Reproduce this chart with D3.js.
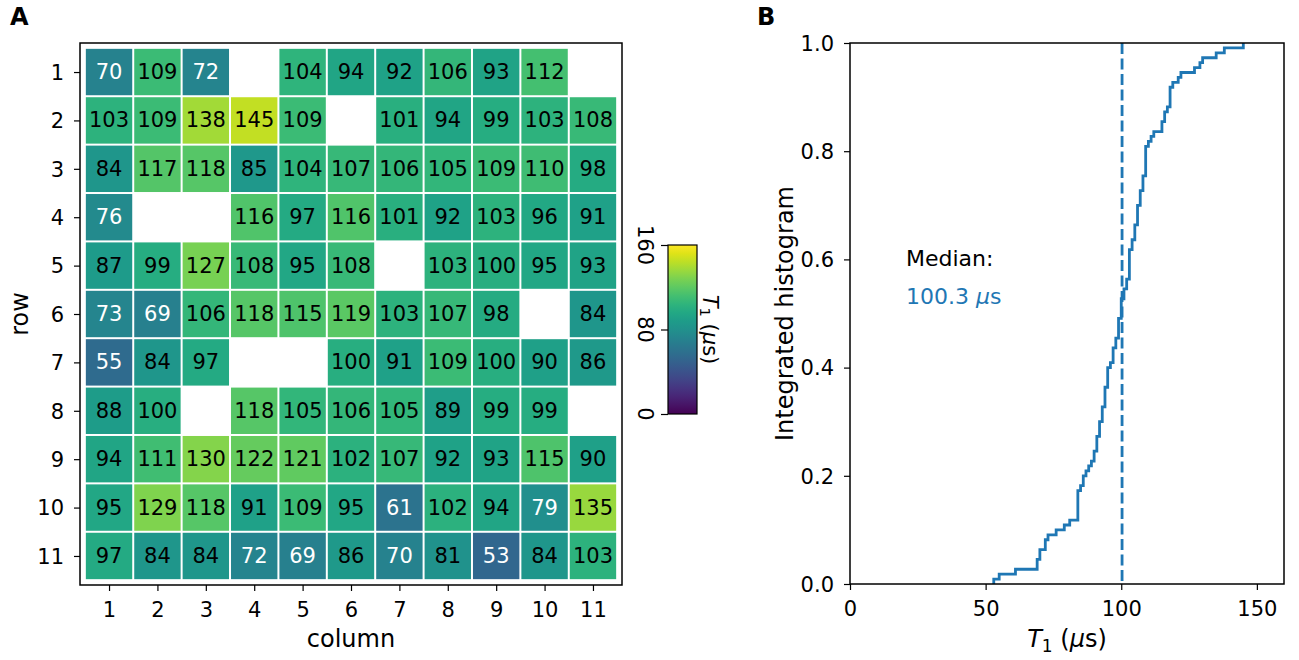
<!DOCTYPE html>
<html><head><meta charset="utf-8">
<script src="https://cdn.jsdelivr.net/npm/d3@7"></script>
<style>
body{margin:0;background:#fff;}
text{font-family:"DejaVu Sans",sans-serif;}
</style></head>
<body>
<svg id="c" width="1299" height="660"></svg>
<script>
const rowLabels = [1,2,3,4,5,6,7,8,9,10,11];
const colLabels = [1,2,3,4,5,6,7,8,9,10,11];
const row1  = [70,109,72,null,104,94,92,106,93,112,null];
const row2  = [103,109,138,145,109,null,101,94,99,103,108];
const row3  = [84,117,118,85,104,107,106,105,109,110,98];
const row4  = [76,null,null,116,97,116,101,92,103,96,91];
const row5  = [87,99,127,108,95,108,null,103,100,95,93];
const row6  = [73,69,106,118,115,119,103,107,98,null,84];
const row7  = [55,84,97,null,null,100,91,109,100,90,86];
const row8  = [88,100,null,118,105,106,105,89,99,99,null];
const row9  = [94,111,130,122,121,102,107,92,93,115,90];
const row10 = [95,129,118,91,109,95,61,102,94,79,135];
const row11 = [97,84,84,72,69,86,70,81,53,84,103];
const rows = [row1,row2,row3,row4,row5,row6,row7,row8,row9,row10,row11];
const colorbarTicks = [0,80,160];
const medianT1 = 100.3;
const cdfXTicks = [0,50,100,150];
const cdfYTicks = [0,0.2,0.4,0.6,0.8,1.0];

const svg = d3.select("#c");
const FS = 21;
const LFS = 24;

// ---------- Panel A ----------
const A = {l:80, r:622, t:43, b:585};
const x = d3.scaleLinear().domain([0.4,11.6]).range([A.l,A.r]);
const y = d3.scaleLinear().domain([0.4,11.6]).range([A.t,A.b]);
const color = d3.scaleSequential(d3.interpolateViridis).domain([0,160]);

const cells = [];
rows.forEach((r,i)=>r.forEach((v,j)=>{ if(v!==null) cells.push({row:rowLabels[i], col:colLabels[j], v}); }));

const gA = svg.append("g");
gA.selectAll("rect.cell").data(cells).join("rect")
  .attr("x",d=>x(d.col-0.5)+1).attr("y",d=>y(d.row-0.5)+1)
  .attr("width",d=>x(d.col+0.5)-x(d.col-0.5)-2)
  .attr("height",d=>y(d.row+0.5)-y(d.row-0.5)-2)
  .attr("fill",d=>color(d.v));
gA.selectAll("text.val").data(cells).join("text")
  .attr("x",d=>x(d.col)).attr("y",d=>y(d.row))
  .attr("text-anchor","middle").attr("dominant-baseline","central")
  .attr("font-size",FS)
  .attr("fill",d=>d.v<80?"#fff":"#000")
  .text(d=>d.v);
gA.append("rect").attr("x",A.l).attr("y",A.t).attr("width",A.r-A.l).attr("height",A.b-A.t)
  .attr("fill","none").attr("stroke","#000").attr("stroke-width",1.5);

const axA_x = gA.append("g").attr("transform",`translate(0,${A.b})`)
  .call(d3.axisBottom(x).tickValues(colLabels).tickSize(6).tickPadding(11).tickFormat(d3.format("d")));
const axA_y = gA.append("g").attr("transform",`translate(${A.l},0)`)
  .call(d3.axisLeft(y).tickValues(rowLabels).tickSize(6).tickPadding(10).tickFormat(d3.format("d")));
[axA_x,axA_y].forEach(a=>{a.select(".domain").remove(); a.selectAll("text").attr("font-size",FS).attr("font-family","DejaVu Sans").attr("fill","#000"); a.selectAll("line").attr("stroke","#000").attr("stroke-width",1.2);});
axA_y.selectAll("text").attr("dy","0.35em");

gA.append("text").attr("x",(A.l+A.r)/2).attr("y",647).attr("text-anchor","middle").attr("font-size",LFS).text("column");
gA.append("text").attr("transform",`translate(28,${(A.t+A.b)/2}) rotate(-90)`).attr("text-anchor","middle").attr("font-size",LFS).text("row");
svg.append("text").attr("x",10).attr("y",25).attr("font-size",24).attr("font-weight","bold").text("A");

// Colorbar
const CB = {l:668, r:697, t:245, b:414};
const cy = d3.scaleLinear().domain([0,160]).range([CB.b,CB.t]);
const defs = svg.append("defs");
const grad = defs.append("linearGradient").attr("id","vir").attr("x1",0).attr("x2",0).attr("y1",1).attr("y2",0);
d3.range(0,1.0001,0.05).forEach(t=>grad.append("stop").attr("offset",t).attr("stop-color",d3.interpolateViridis(t)));
svg.append("rect").attr("x",CB.l).attr("y",CB.t).attr("width",CB.r-CB.l).attr("height",CB.b-CB.t)
  .attr("fill","url(#vir)").attr("stroke","#000").attr("stroke-width",1.2);
const cbAx = svg.append("g").attr("transform",`translate(${CB.l},0)`).call(d3.axisLeft(cy).tickValues(colorbarTicks).tickSize(7).tickFormat(d3.format("d")));
cbAx.select(".domain").remove();
cbAx.selectAll("line").attr("stroke","#000").attr("stroke-width",1.2);
cbAx.selectAll("text").remove();
svg.selectAll("text.cbt").data(colorbarTicks).join("text")
  .attr("transform",d=>`translate(${CB.l-23},${cy(d)}) rotate(90)`)
  .attr("text-anchor","middle").attr("dominant-baseline","central").attr("font-size",FS).text(d=>d);
const cbl = svg.append("text").attr("transform",`translate(${CB.r+13},${(CB.t+CB.b)/2}) rotate(90)`)
  .attr("text-anchor","middle").attr("dominant-baseline","central").attr("font-size",FS);
cbl.append("tspan").attr("font-style","italic").text("T");
cbl.append("tspan").attr("font-size",FS*0.7).attr("dy",4).text("1");
cbl.append("tspan").attr("dy",-4).text(" (");
cbl.append("tspan").attr("font-style","italic").text("μ");
cbl.append("tspan").text("s)");

// ---------- Panel B ----------
const B = {l:850, r:1284, t:43, b:584};
const bx = d3.scaleLinear().domain([0,160]).range([B.l,B.r]);
const by = d3.scaleLinear().domain([0,1]).range([B.b,B.t]);
const vals = cells.map(d=>d.v).sort((a,b)=>a-b);
const n = vals.length;
const pts = [[vals[0],0]].concat(vals.map((v,i)=>[v,(i+1)/n]));
const gB = svg.append("g");
gB.append("line").attr("x1",bx(medianT1)).attr("x2",bx(medianT1)).attr("y1",B.t).attr("y2",B.b)
  .attr("stroke","#1f77b4").attr("stroke-width",2.8).attr("stroke-dasharray","11,4.5");
gB.append("path").datum(pts)
  .attr("d",d3.line().x(d=>bx(d[0])).y(d=>by(d[1])).curve(d3.curveStepAfter))
  .attr("fill","none").attr("stroke","#1f77b4").attr("stroke-width",2.8);
gB.append("rect").attr("x",B.l).attr("y",B.t).attr("width",B.r-B.l).attr("height",B.b-B.t)
  .attr("fill","none").attr("stroke","#000").attr("stroke-width",1.5);
const axB_x = gB.append("g").attr("transform",`translate(0,${B.b})`)
  .call(d3.axisBottom(bx).tickValues(cdfXTicks).tickSize(6).tickPadding(11).tickFormat(d3.format("d")));
const axB_y = gB.append("g").attr("transform",`translate(${B.l},0)`)
  .call(d3.axisLeft(by).tickValues(cdfYTicks).tickSize(6).tickPadding(10).tickFormat(d3.format(".1f")));
[axB_x,axB_y].forEach(a=>{a.select(".domain").remove(); a.selectAll("text").attr("font-size",FS).attr("font-family","DejaVu Sans").attr("fill","#000"); a.selectAll("line").attr("stroke","#000").attr("stroke-width",1.2);});
axB_y.selectAll("text").attr("dy","0.35em");

const bxl = gB.append("text").attr("x",(B.l+B.r)/2).attr("y",647).attr("text-anchor","middle").attr("font-size",LFS);
bxl.append("tspan").attr("font-style","italic").text("T");
bxl.append("tspan").attr("font-size",17).attr("dy",5).text("1");
bxl.append("tspan").attr("dy",-5).text(" (");
bxl.append("tspan").attr("font-style","italic").text("μ");
bxl.append("tspan").text("s)");
gB.append("text").attr("transform",`translate(793,${(B.t+B.b)/2}) rotate(-90)`).attr("text-anchor","middle").attr("font-size",LFS).text("Integrated histogram");
gB.append("text").attr("x",906).attr("y",266).attr("font-size",22).text("Median:");
const mt = gB.append("text").attr("x",906).attr("y",304).attr("font-size",22).attr("fill","#1f77b4");
mt.append("tspan").text("100.3 ");
mt.append("tspan").attr("font-style","italic").text("μ");
mt.append("tspan").text("s");
svg.append("text").attr("x",757).attr("y",25).attr("font-size",24).attr("font-weight","bold").text("B");
</script>
</body></html>
